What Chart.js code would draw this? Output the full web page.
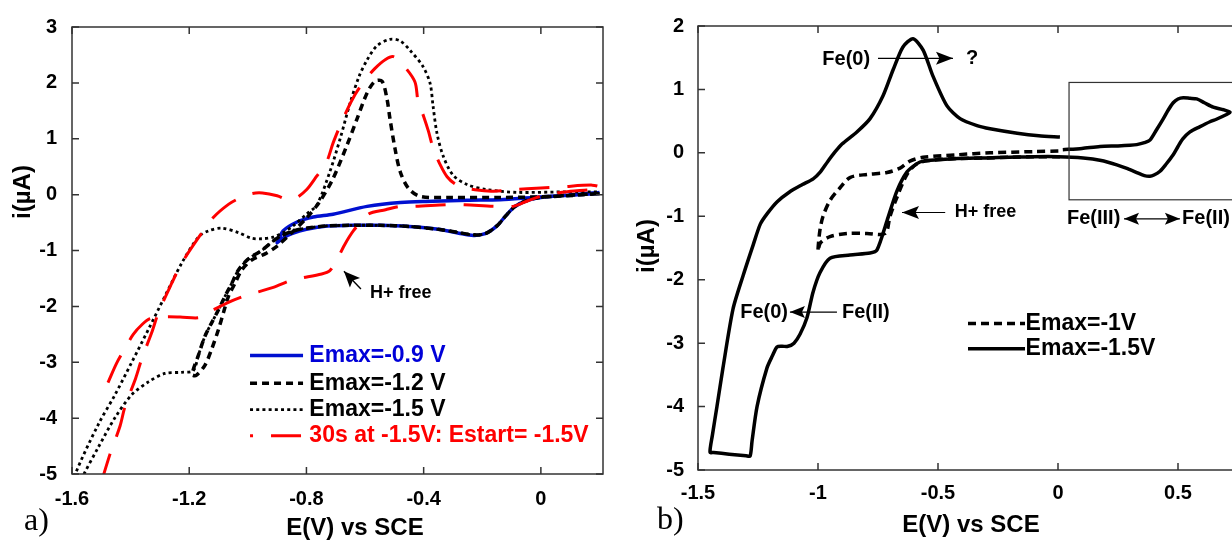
<!DOCTYPE html>
<html><head><meta charset="utf-8">
<script src="https://cdn.jsdelivr.net/npm/chart.js@4.4.1/dist/chart.umd.min.js"></script>
<style>
html,body{margin:0;padding:0;background:#fff;width:1232px;height:540px;overflow:hidden;position:relative;}
canvas{position:absolute;top:0;}
#ca{left:0;}
#cb{left:615px;}
</style></head>
<body>
<canvas id="ca" width="615" height="540"></canvas>
<canvas id="cb" width="650" height="540"></canvas>
<script>
// ================= Panel a) =================
const xTicksA = [-1.6, -1.2, -0.8, -0.4, 0];
const xLabelsA = ['-1.6', '-1.2', '-0.8', '-0.4', '0'];
const yTicksA = [3, 2, 1, 0, -1, -2, -3, -4, -5];
const yLabelsA = ['3', '2', '1', '0', '-1', '-2', '-3', '-4', '-5'];

// Emax = -0.9 V (blue)
const blueE = [0.20, 0.10, 0.00, -0.05, -0.09, -0.12, -0.15, -0.19, -0.23, -0.28, -0.35, -0.45, -0.55, -0.65, -0.73, -0.80, -0.85, -0.88, -0.90, -0.895, -0.88, -0.832, -0.777, -0.709, -0.593, -0.48, -0.368, -0.252, -0.139, -0.027, 0.09, 0.20];
const blueI = [0.02, -0.01, -0.05, -0.11, -0.22, -0.38, -0.56, -0.70, -0.73, -0.69, -0.62, -0.57, -0.55, -0.55, -0.56, -0.62, -0.70, -0.78, -0.86, -0.82, -0.65, -0.49, -0.40, -0.35, -0.21, -0.14, -0.12, -0.10, -0.09, -0.05, -0.01, 0.04];

// Emax = -1.2 V (black dashed)
const dashE = [0.20, 0.10, 0.00, -0.05, -0.09, -0.12, -0.15, -0.19, -0.23, -0.28, -0.35, -0.45, -0.55, -0.65, -0.73, -0.80, -0.85, -0.90, -0.953, -0.998, -1.032, -1.055, -1.078, -1.10, -1.123, -1.146, -1.169, -1.19, -1.175, -1.146, -1.123, -1.10, -1.083, -1.066, -1.044, -1.021, -0.987, -0.941, -0.90, -0.85, -0.80, -0.754, -0.709, -0.662, -0.627, -0.593, -0.566, -0.542, -0.525, -0.515, -0.498, -0.48, -0.453, -0.413, -0.31, -0.14, 0.00, 0.09, 0.20];
const dashI = [0.02, -0.01, -0.05, -0.11, -0.22, -0.38, -0.56, -0.70, -0.72, -0.68, -0.62, -0.57, -0.55, -0.55, -0.56, -0.60, -0.66, -0.78, -1.00, -1.15, -1.35, -1.59, -1.82, -2.06, -2.29, -2.53, -2.88, -3.22, -3.23, -3.05, -2.76, -2.41, -2.11, -1.82, -1.59, -1.35, -1.17, -1.06, -0.92, -0.68, -0.42, -0.12, 0.29, 0.88, 1.36, 1.82, 2.03, 2.03, 1.71, 1.36, 0.83, 0.41, 0.12, -0.03, -0.05, -0.05, -0.04, -0.02, 0.02];

// Emax = -1.5 V (black dotted)
const dotE = [0.20, 0.10, 0.00, -0.05, -0.09, -0.12, -0.15, -0.19, -0.23, -0.28, -0.35, -0.45, -0.55, -0.65, -0.73, -0.80, -0.85, -0.90, -0.953, -0.998, -1.032, -1.055, -1.078, -1.10, -1.123, -1.146, -1.169, -1.186, -1.226, -1.283, -1.339, -1.396, -1.453, -1.51, -1.561, -1.58, -1.60, -1.59, -1.51, -1.453, -1.396, -1.339, -1.283, -1.226, -1.169, -1.135, -1.089, -1.032, -0.987, -0.953, -0.914, -0.88, -0.846, -0.80, -0.764, -0.72, -0.685, -0.651, -0.62, -0.593, -0.56, -0.515, -0.48, -0.446, -0.402, -0.378, -0.368, -0.355, -0.334, -0.30, -0.252, -0.184, -0.081, 0.09, 0.20];
const dotI = [0.02, -0.01, -0.05, -0.11, -0.22, -0.38, -0.56, -0.70, -0.72, -0.68, -0.62, -0.57, -0.55, -0.55, -0.56, -0.60, -0.66, -0.78, -1.00, -1.15, -1.35, -1.59, -1.82, -2.06, -2.29, -2.53, -2.88, -3.15, -3.18, -3.20, -3.35, -3.58, -3.99, -4.52, -5.02, -5.25, -5.35, -5.02, -4.11, -3.58, -3.00, -2.41, -1.82, -1.23, -0.76, -0.65, -0.60, -0.68, -0.78, -0.79, -0.76, -0.68, -0.56, -0.35, -0.18, 0.41, 1.00, 1.64, 2.12, 2.41, 2.66, 2.78, 2.75, 2.58, 2.29, 1.99, 1.59, 1.11, 0.70, 0.35, 0.18, 0.09, 0.04, 0.05, 0.05];

// 30 s at -1.5 V: Estart = -1.5 V (red)
const redE = [-1.50, -1.47, -1.436, -1.419, -1.383, -1.362, -1.326, -1.305, -1.26, -1.226, -1.163, -1.118, -1.065, -1.027, -0.985, -0.95, -0.90, -0.863, -0.835, -0.799, -0.765, -0.731, -0.708, -0.668, -0.634, -0.60, -0.566, -0.53, -0.503, -0.47, -0.43, -0.419, -0.40, -0.384, -0.367, -0.345, -0.32, -0.29, -0.26, -0.21, -0.16, -0.095, 0.0, 0.07, 0.175, 0.205,
  0.17, 0.10, 0.02, -0.04, -0.095, -0.163, -0.26, -0.32, -0.43, -0.48, -0.53, -0.589, -0.64, -0.67, -0.697, -0.72, -0.748, -0.85, -0.913, -1.015, -1.072, -1.12, -1.163, -1.231, -1.29, -1.334, -1.36, -1.391, -1.42, -1.448, -1.476, -1.50];
const redI = [-5.15, -4.64, -4.14, -3.79, -3.29, -2.94, -2.44, -2.11, -1.59, -1.23, -0.73, -0.41, -0.17, -0.06, 0.02, 0.03, -0.02, -0.09, -0.06, 0.09, 0.33, 0.59, 0.94, 1.44, 1.79, 2.05, 2.26, 2.42, 2.47, 2.32, 2.02, 1.67, 1.40, 1.14, 0.82, 0.55, 0.32, 0.18, 0.12, 0.08, 0.06, 0.09, 0.12, 0.14, 0.17, 0.13,
  0.09, 0.06, 0.00, -0.10, -0.21, -0.21, -0.18, -0.18, -0.21, -0.21, -0.27, -0.35, -0.65, -0.90, -1.175, -1.36, -1.42, -1.53, -1.66, -1.82, -1.94, -2.07, -2.20, -2.19, -2.19, -2.22, -2.32, -2.50, -2.76, -3.02, -3.35, -3.62];

const legendA = ['Emax=-0.9 V', 'Emax=-1.2 V', 'Emax=-1.5 V', '30s at -1.5V: Estart= -1.5V'];

// ================= Panel b) =================
const xTicksB = [-1.5, -1, -0.5, 0, 0.5];
const xLabelsB = ['-1.5', '-1', '-0.5', '0', '0.5'];
const yTicksB = [2, 1, 0, -1, -2, -3, -4, -5];
const yLabelsB = ['2', '1', '0', '-1', '-2', '-3', '-4', '-5'];

// Emax = -1.5 V (solid)
const solidE = [0.02, 0.10, 0.175, 0.25, 0.30, 0.328, 0.36, 0.383, 0.41, 0.439, 0.46, 0.48, 0.50, 0.522, 0.55, 0.578, 0.61, 0.647, 0.69, 0.717, 0.70, 0.66, 0.633, 0.59, 0.55, 0.52, 0.50, 0.48, 0.45, 0.425, 0.40, 0.383, 0.36, 0.328, 0.29, 0.245, 0.18, 0.105, 0.00, -0.10, -0.20, -0.30, -0.42, -0.50, -0.5625, -0.5875, -0.629, -0.671, -0.7125, -0.754, -0.783, -0.867, -0.95, -0.992, -1.021, -1.046, -1.075, -1.10, -1.125, -1.15, -1.171, -1.19, -1.2125, -1.254, -1.275, -1.283, -1.30, -1.37, -1.435, -1.45, -1.44, -1.421, -1.396, -1.354, -1.3125, -1.27, -1.24, -1.21, -1.17, -1.12, -1.065, -1.02, -0.99, -0.96, -0.93, -0.90, -0.838, -0.783, -0.729, -0.687, -0.646, -0.604, -0.562, -0.521, -0.4625, -0.408, -0.3375, -0.283, -0.17, -0.08, 0.008];
const solidI = [0.05, 0.07, 0.10, 0.11, 0.12, 0.13, 0.16, 0.20, 0.36, 0.54, 0.68, 0.79, 0.85, 0.87, 0.86, 0.85, 0.79, 0.72, 0.68, 0.64, 0.60, 0.53, 0.49, 0.41, 0.33, 0.22, 0.10, -0.03, -0.18, -0.29, -0.35, -0.37, -0.36, -0.31, -0.25, -0.19, -0.12, -0.08, -0.06, -0.06, -0.07, -0.08, -0.09, -0.11, -0.13, -0.17, -0.30, -0.60, -1.07, -1.53, -1.58, -1.61, -1.66, -1.89, -2.20, -2.60, -2.86, -3.00, -3.05, -3.05, -3.06, -3.20, -3.39, -4.00, -4.55, -4.78, -4.775, -4.75, -4.725, -4.72, -4.45, -4.00, -3.39, -2.46, -1.94, -1.45, -1.12, -0.95, -0.77, -0.62, -0.50, -0.41, -0.30, -0.14, 0.01, 0.14, 0.33, 0.54, 0.90, 1.31, 1.67, 1.80, 1.62, 1.21, 0.74, 0.54, 0.43, 0.38, 0.31, 0.27, 0.25];

// Emax = -1 V (dashed)
const rdashE = [0.008, -0.10, -0.20, -0.30, -0.42, -0.53, -0.5875, -0.629, -0.671, -0.70, -0.72, -0.796, -0.879, -0.95, -0.99, -1.0, -0.992, -0.979, -0.95, -0.908, -0.867, -0.796, -0.7125, -0.658, -0.617, -0.5625, -0.42, -0.283, -0.10, 0.008];
const rdashI = [-0.06, -0.06, -0.07, -0.08, -0.09, -0.12, -0.17, -0.34, -0.70, -1.00, -1.27, -1.27, -1.27, -1.32, -1.42, -1.55, -1.22, -1.00, -0.75, -0.55, -0.39, -0.34, -0.31, -0.24, -0.13, -0.07, -0.03, 0.00, 0.02, 0.03];

const legendB = ['Emax=-1V', 'Emax=-1.5V'];

// ================= helpers =================
const FONT = '"Liberation Sans", Arial, Helvetica, sans-serif';
const toXY = (xs, ys) => xs.map((x, k) => ({ x: x, y: ys[k] }));

function txt(ctx, s, x, y, o) {
  ctx.save();
  ctx.font = o.font; ctx.fillStyle = o.color || '#000';
  ctx.textAlign = o.align || 'left'; ctx.textBaseline = 'middle';
  if (o.rot) { ctx.translate(x, y); ctx.rotate(o.rot); ctx.fillText(s, 0, 0); }
  else ctx.fillText(s, x, y);
  ctx.restore();
}
function head(ctx, x1, y1, x2, y2, len, half) {
  const a = Math.atan2(y2 - y1, x2 - x1), c = Math.cos(a), s = Math.sin(a);
  ctx.beginPath();
  ctx.moveTo(x2, y2);
  ctx.lineTo(x2 - len * c + half * s, y2 - len * s - half * c);
  ctx.lineTo(x2 - len * c * 0.8, y2 - len * s * 0.8);
  ctx.lineTo(x2 - len * c - half * s, y2 - len * s + half * c);
  ctx.closePath(); ctx.fill();
}
function arrow(ctx, x1, y1, x2, y2, len, half, both) {
  ctx.beginPath(); ctx.moveTo(x1, y1); ctx.lineTo(x2, y2); ctx.stroke();
  head(ctx, x1, y1, x2, y2, len, half);
  if (both) head(ctx, x2, y2, x1, y1, len, half);
}
function sample(ctx, ds, x1, x2, y, dashOffset) {
  ctx.save();
  ctx.strokeStyle = ds.borderColor; ctx.lineWidth = ds.borderWidth;
  ctx.setLineDash(ds.borderDash || []); ctx.lineDashOffset = dashOffset || 0;
  ctx.beginPath(); ctx.moveTo(x1, y); ctx.lineTo(x2, y); ctx.stroke();
  ctx.restore();
}

const frameTicks = {
  id: 'frameTicks',
  afterDraw(chart) {
    const { ctx, chartArea: a } = chart;
    const sx = chart.scales.x, sy = chart.scales.y, L = 7;
    ctx.save();
    ctx.strokeStyle = '#333'; ctx.lineWidth = 1.5;
    ctx.strokeRect(a.left, a.top, a.right - a.left, a.bottom - a.top);
    ctx.beginPath();
    sx.ticks.forEach(t => {
      const p = sx.getPixelForValue(t.value);
      ctx.moveTo(p, a.bottom); ctx.lineTo(p, a.bottom - L);
      ctx.moveTo(p, a.top); ctx.lineTo(p, a.top + L);
    });
    sy.ticks.forEach(t => {
      const p = sy.getPixelForValue(t.value);
      ctx.moveTo(a.left, p); ctx.lineTo(a.left + L, p);
      ctx.moveTo(a.right, p); ctx.lineTo(a.right - L, p);
    });
    ctx.stroke();
    ctx.restore();
  }
};

function scales(cfg) {
  const tickFont = { family: FONT, size: 20, weight: 'bold' };
  return {
    x: {
      type: 'linear', position: 'bottom', min: cfg.xmin, max: cfg.xmax,
      afterBuildTicks: s => { s.ticks = cfg.xt.map(v => ({ value: v })); },
      afterFit: s => { s.height = cfg.xh; },
      grid: { display: false, drawTicks: false }, border: { display: false },
      ticks: { font: tickFont, color: '#000', padding: cfg.xpad, maxRotation: 0, autoSkip: false,
        callback: v => cfg.xl[cfg.xt.indexOf(v)] }
    },
    y: {
      type: 'linear', position: 'left', min: cfg.ymin, max: cfg.ymax,
      afterBuildTicks: s => { s.ticks = cfg.yt.map(v => ({ value: v })); },
      afterFit: s => { s.width = cfg.yw; },
      grid: { display: false, drawTicks: false }, border: { display: false },
      ticks: { font: tickFont, color: '#000', padding: cfg.ypad, autoSkip: false,
        callback: v => cfg.yl[cfg.yt.indexOf(v)] }
    }
  };
}

// ================= Chart a) =================
const annA = {
  id: 'annA',
  afterDraw(chart) {
    const ctx = chart.ctx;
    const X = v => chart.scales.x.getPixelForValue(v), Y = v => chart.scales.y.getPixelForValue(v);
    ctx.save(); ctx.strokeStyle = '#000'; ctx.fillStyle = '#000'; ctx.lineWidth = 1.4;
    arrow(ctx, X(-0.614), Y(-1.69), X(-0.672), Y(-1.37), 16, 7);
    ctx.restore();
    txt(ctx, 'H+ free', X(-0.583), Y(-1.77), { font: 'bold 18px ' + FONT });
    // legend
    const rows = [-2.877, -3.378, -3.847, -4.317];
    const cols = ['#0000d8', '#000', '#000', '#ff0000'];
    legendA.forEach((lab, k) => {
      const ds = chart.data.datasets[k];
      sample(ctx, ds, X(-0.9925), X(-0.8116), Y(rows[k]), k === 3 ? 27 : 0);
      txt(ctx, lab, X(-0.79), Y(rows[k]), { font: 'bold 23px ' + FONT, color: cols[k] });
    });
    txt(ctx, 'E(V) vs SCE', 355, 528, { font: 'bold 24px ' + FONT, align: 'center' });
    txt(ctx, 'i(\u00b5A)', 23, 192, { font: 'bold 24px ' + FONT, align: 'center', rot: -Math.PI / 2 });
    txt(ctx, 'a)', 24, 522, { font: '32px "Liberation Serif", "Times New Roman", serif' });
  }
};

new Chart(document.getElementById('ca'), {
  type: 'scatter',
  data: {
    datasets: [
      { label: legendA[0], data: toXY(blueE, blueI), showLine: true, borderColor: '#0010d0', borderWidth: 3.5, tension: 0.3, pointRadius: 0, order: 4 },
      { label: legendA[1], data: toXY(dashE, dashI), showLine: true, borderColor: '#000', borderWidth: 3.5, borderDash: [7, 5], tension: 0.3, pointRadius: 0, order: 3 },
      { label: legendA[2], data: toXY(dotE, dotI), showLine: true, borderColor: '#000', borderWidth: 2.8, borderDash: [3, 3.2], tension: 0.3, pointRadius: 0, order: 2 },
      { label: legendA[3], data: toXY(redE, redI), showLine: true, borderColor: '#ff0000', borderWidth: 3, borderDash: [30, 18], tension: 0.3, pointRadius: 0, order: 1 }
    ]
  },
  options: {
    responsive: false, animation: false, events: [],
    layout: { padding: { left: 0, top: 20, right: 12, bottom: 0 } },
    plugins: { legend: { display: false }, tooltip: { enabled: false } },
    scales: scales({ xmin: -1.6, xmax: 0.212, ymin: -5, ymax: 3, xt: xTicksA, xl: xLabelsA, yt: yTicksA, yl: yLabelsA, xh: 66, yw: 72, xpad: 13, ypad: 15 })
  },
  plugins: [frameTicks, annA]
});

// ================= Chart b) =================
const annB = {
  id: 'annB',
  afterDraw(chart) {
    const ctx = chart.ctx;
    const X = v => chart.scales.x.getPixelForValue(v), Y = v => chart.scales.y.getPixelForValue(v);
    const f20 = 'bold 20px ' + FONT;
    // inset box
    ctx.save(); ctx.strokeStyle = '#333'; ctx.lineWidth = 1.2;
    ctx.strokeRect(X(0.046), Y(1.11), X(0.85) - X(0.046), Y(-0.74) - Y(1.11));
    ctx.restore();
    ctx.save(); ctx.strokeStyle = '#000'; ctx.fillStyle = '#000'; ctx.lineWidth = 1.2;
    arrow(ctx, X(-0.75), Y(1.49), X(-0.4375), Y(1.49), 17, 6.5);
    arrow(ctx, X(-0.47), Y(-0.94), X(-0.65), Y(-0.94), 17, 6.5);
    arrow(ctx, X(-0.921), Y(-2.51), X(-1.117), Y(-2.51), 15, 6);
    arrow(ctx, X(0.275), Y(-1.04), X(0.508), Y(-1.04), 15, 6, true);
    ctx.restore();
    txt(ctx, 'Fe(0)', X(-0.783), Y(1.47), { font: f20, align: 'right' });
    txt(ctx, '?', X(-0.358), Y(1.49), { font: f20, align: 'center' });
    txt(ctx, 'H+ free', X(-0.43), Y(-0.94), { font: 'bold 18px ' + FONT });
    txt(ctx, 'Fe(0)', X(-1.125), Y(-2.51), { font: f20, align: 'right' });
    txt(ctx, 'Fe(II)', X(-0.9), Y(-2.51), { font: f20 });
    txt(ctx, 'Fe(III)', X(0.0375), Y(-1.04), { font: f20 });
    txt(ctx, 'Fe(II)', X(0.517), Y(-1.04), { font: f20 });
    // legend
    const rows = [-2.69, -3.09];
    legendB.forEach((lab, k) => {
      const ds = chart.data.datasets[k];
      sample(ctx, ds, X(-0.375), X(-0.1375), Y(rows[k]), 0);
      txt(ctx, lab, X(-0.135), Y(rows[k]), { font: 'bold 23px ' + FONT });
    });
    txt(ctx, 'E(V) vs SCE', 356, 525, { font: 'bold 24px ' + FONT, align: 'center' });
    txt(ctx, 'i(\u00b5A)', 32, 246, { font: 'bold 24px ' + FONT, align: 'center', rot: -Math.PI / 2 });
    txt(ctx, 'b)', 42, 521, { font: '32px "Liberation Serif", "Times New Roman", serif' });
  }
};

new Chart(document.getElementById('cb'), {
  type: 'scatter',
  data: {
    datasets: [
      { label: legendB[0], data: toXY(rdashE, rdashI), showLine: true, borderColor: '#000', borderWidth: 3.5, borderDash: [8, 5], tension: 0.3, pointRadius: 0, order: 2 },
      { label: legendB[1], data: toXY(solidE, solidI), showLine: true, borderColor: '#000', borderWidth: 3.5, tension: 0.25, pointRadius: 0, order: 1 }
    ]
  },
  options: {
    responsive: false, animation: false, events: [],
    layout: { padding: { left: 0, top: 18, right: 15, bottom: 0 } },
    plugins: { legend: { display: false }, tooltip: { enabled: false } },
    scales: scales({ xmin: -1.5, xmax: 0.8, ymin: -5, ymax: 2, xt: xTicksB, xl: xLabelsB, yt: yTicksB, yl: yLabelsB, xh: 70, yw: 83, xpad: 11, ypad: 14 })
  },
  plugins: [frameTicks, annB]
});
</script>
</body></html>
